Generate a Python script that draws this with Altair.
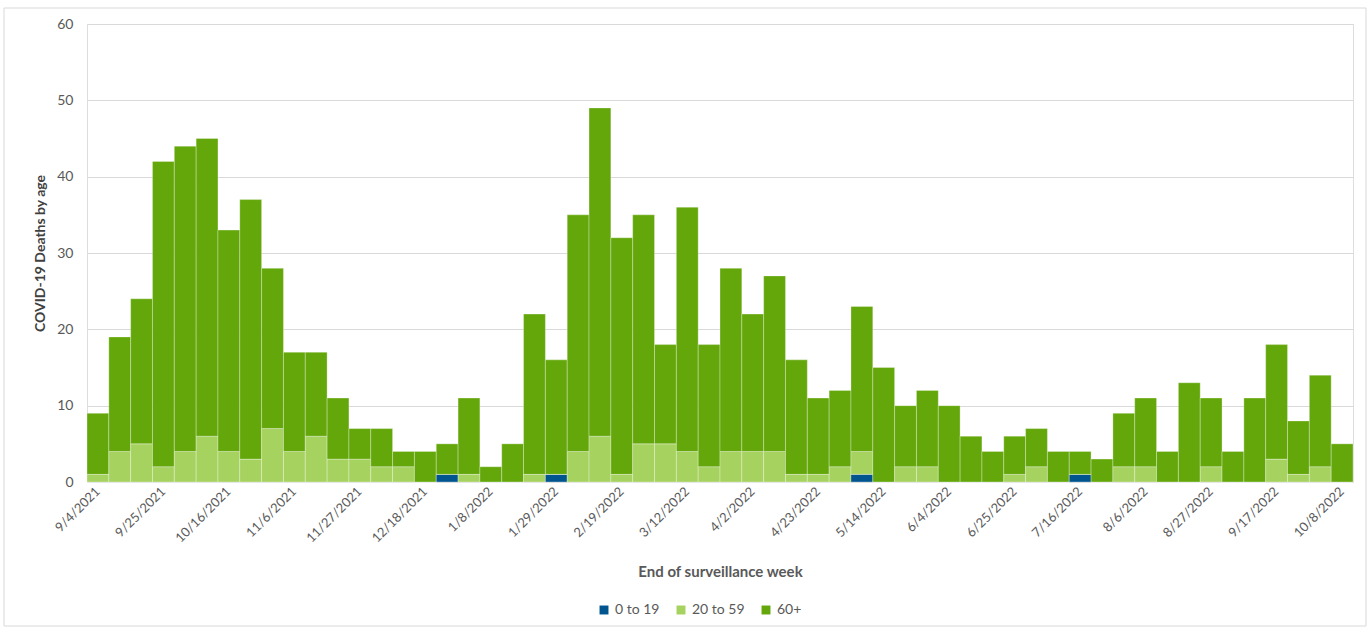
import altair as alt
import pandas as pd

weeks = [
    "9/4/2021", "9/11/2021", "9/18/2021", "9/25/2021", "10/2/2021", "10/9/2021",
    "10/16/2021", "10/23/2021", "10/30/2021", "11/6/2021", "11/13/2021", "11/20/2021",
    "11/27/2021", "12/4/2021", "12/11/2021", "12/18/2021", "12/25/2021", "1/1/2022",
    "1/8/2022", "1/15/2022", "1/22/2022", "1/29/2022", "2/5/2022", "2/12/2022",
    "2/19/2022", "2/26/2022", "3/5/2022", "3/12/2022", "3/19/2022", "3/26/2022",
    "4/2/2022", "4/9/2022", "4/16/2022", "4/23/2022", "4/30/2022", "5/7/2022",
    "5/14/2022", "5/21/2022", "5/28/2022", "6/4/2022", "6/11/2022", "6/18/2022",
    "6/25/2022", "7/2/2022", "7/9/2022", "7/16/2022", "7/23/2022", "7/30/2022",
    "8/6/2022", "8/13/2022", "8/20/2022", "8/27/2022", "9/3/2022", "9/10/2022",
    "9/17/2022", "9/24/2022", "10/1/2022", "10/8/2022",
]

# Weekly totals (all ages)
totals = [
    9, 19, 24, 42, 44, 45, 33, 37, 28, 17, 17, 11,
    7, 7, 4, 4, 5, 11, 2, 5, 22, 16, 35, 49,
    32, 35, 18, 36, 18, 28, 22, 27, 16, 11, 12, 23,
    15, 10, 12, 10, 6, 4, 6, 7, 4, 4, 3, 9,
    11, 4, 13, 11, 4, 11, 18, 8, 14, 5,
]
age_0_19 = [
    0, 0, 0, 0, 0, 0, 0, 0, 0, 0, 0, 0,
    0, 0, 0, 0, 1, 0, 0, 0, 0, 1, 0, 0,
    0, 0, 0, 0, 0, 0, 0, 0, 0, 0, 0, 1,
    0, 0, 0, 0, 0, 0, 0, 0, 0, 1, 0, 0,
    0, 0, 0, 0, 0, 0, 0, 0, 0, 0,
]
age_20_59 = [
    1, 4, 5, 2, 4, 6, 4, 3, 7, 4, 6, 3,
    3, 2, 2, 0, 0, 1, 0, 0, 1, 0, 4, 6,
    1, 5, 5, 4, 2, 4, 4, 4, 1, 1, 2, 3,
    0, 2, 2, 0, 0, 0, 1, 2, 0, 0, 0, 2,
    2, 0, 0, 2, 0, 0, 3, 1, 2, 0,
]
age_60_plus = [t - a - b for t, a, b in zip(totals, age_0_19, age_20_59)]

groups = ["0 to 19", "20 to 59", "60+"]
colors = ["#00558F", "#A6D25F", "#64A70B"]
shown_labels = weeks[::3]

rows = []
for i, w in enumerate(weeks):
    for g, vals, o in zip(groups, [age_0_19, age_20_59, age_60_plus], [0, 1, 2]):
        rows.append({"week": w, "group": g, "deaths": vals[i], "ord": o})
df = pd.DataFrame(rows)

FONT = "Lato"
W, H = 1266, 458

bars = alt.Chart(df).mark_bar(stroke="white", strokeWidth=0.5, strokeOpacity=0.6).encode(
    x=alt.X(
        "week:N",
        sort=weeks,
        scale=alt.Scale(paddingInner=0, paddingOuter=0),
        axis=alt.Axis(
            values=shown_labels,
            labelAngle=-45,
            labelAlign="right",
            labelBaseline="middle",
            labelFontSize=13,
            labelColor="#595959",
            labelFont=FONT,
            labelPadding=7,
            ticks=False,
            domain=False,
            grid=False,
            title="End of surveillance week",
            titleFont=FONT,
            titleFontSize=15,
            titleFontWeight="bold",
            titleColor="#595959",
            titleY=89,
            titleBaseline="middle",
        ),
    ),
    y=alt.Y(
        "deaths:Q",
        stack="zero",
        scale=alt.Scale(domain=[0, 60], nice=False),
        axis=alt.Axis(
            values=[0, 10, 20, 30, 40, 50, 60],
            grid=True,
            gridColor="#d9d9d9",
            gridWidth=1,
            domain=False,
            ticks=False,
            labelFontSize=14,
            labelColor="#595959",
            labelFont=FONT,
            labelPadding=14,
            title="COVID-19 Deaths by age",
            titleFont=FONT,
            titleFontSize=14,
            titleFontWeight="bold",
            titleColor="#404040",
            titleX=-47,
            titleY=H / 2,
            titleAngle=-90,
            titleAlign="center",
            titleBaseline="middle",
        ),
    ),
    color=alt.Color(
        "group:N",
        scale=alt.Scale(domain=groups, range=colors),
        legend=alt.Legend(
            title=None,
            orient="none",
            direction="horizontal",
            legendX=510,
            legendY=579,
            symbolType="square",
            symbolSize=80,
            symbolStrokeWidth=0,
            labelFont=FONT,
            labelFontSize=14,
            labelColor="#595959",
            columnPadding=14,
            labelOffset=4,
        ),
    ),
    order=alt.Order("ord:Q"),
)

frame = alt.Chart(pd.DataFrame({"k": [0]})).mark_rect(
    fill="transparent", stroke="#d9d9d9", strokeWidth=1
).encode(
    x=alt.value(-83), x2=alt.value(1279), y=alt.value(-16), y2=alt.value(602)
)

chart = (
    alt.layer(bars, frame)
    .properties(
        width=W,
        height=H,
        autosize=alt.AutoSizeParams(type="none"),
        padding={"left": 87, "top": 24, "right": 16, "bottom": 147},
    )
    .configure_view(strokeWidth=0, stroke="transparent")
    .configure_axisY(domain=False, domainOpacity=0)
    .configure_axisBand(grid=False, gridOpacity=0)
    .configure(background="white")
)

chart.save("out.html", embed_options={"renderer": "svg", "actions": False})
